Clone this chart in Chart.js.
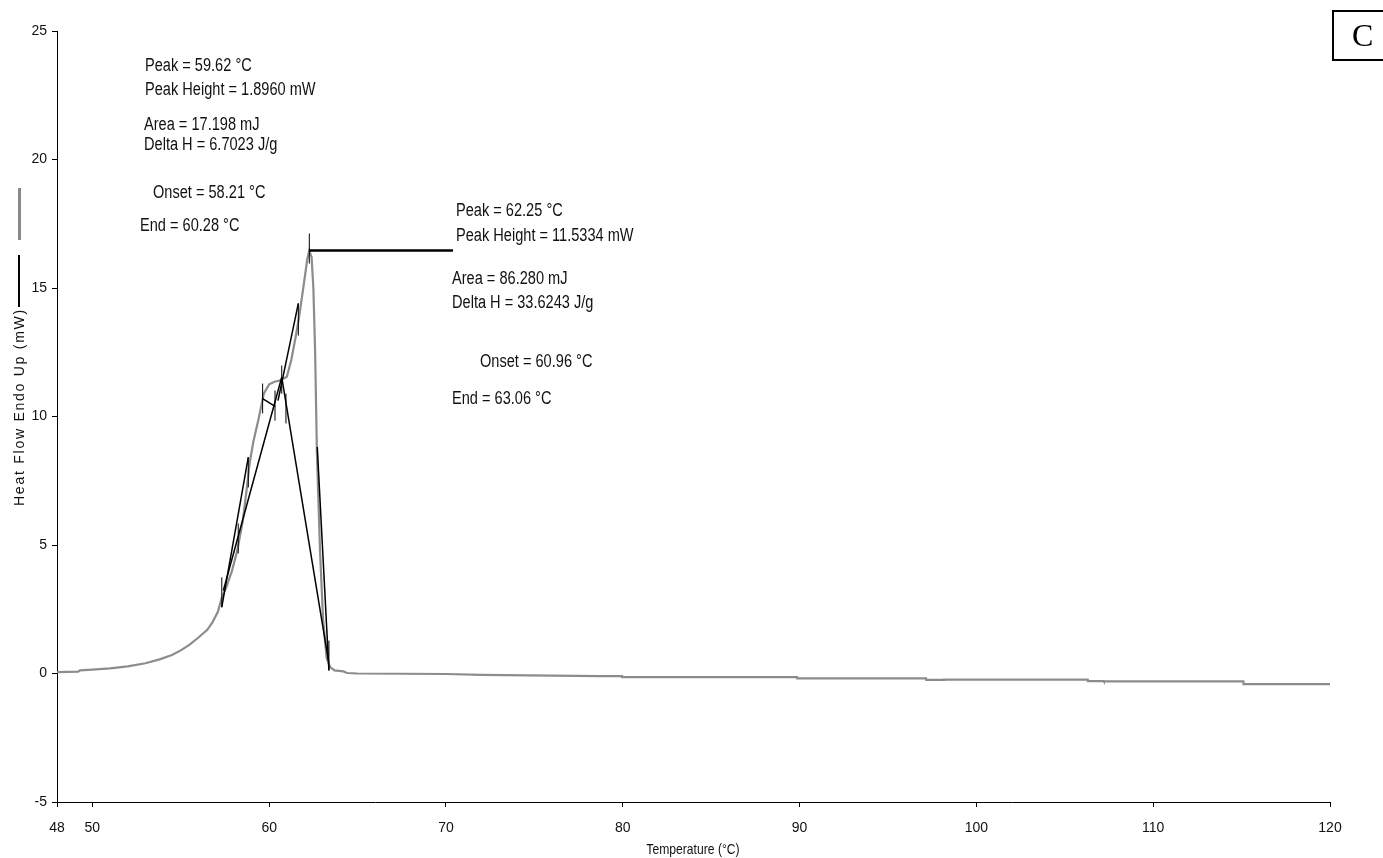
<!DOCTYPE html>
<html><head><meta charset="utf-8"><title>DSC C</title>
<script src="https://cdn.jsdelivr.net/npm/chart.js"></script>
<style>
body{margin:0;background:#fff;}
#wrap{position:relative;width:1383px;height:858px;}
.note{position:absolute;font-family:'Liberation Sans',Arial,sans-serif;font-size:18px;line-height:20px;color:#111;white-space:nowrap;transform:scaleX(0.81);transform-origin:0 0;}
#ytitle{position:absolute;left:19px;top:407px;transform:translate(-50%,-50%) rotate(-90deg);font:14px 'Liberation Sans',Arial,sans-serif;letter-spacing:1.75px;white-space:nowrap;color:#111;}
#xtitle{position:absolute;left:693px;top:840px;transform:translateX(-50%) scaleX(0.81);font:15px 'Liberation Sans',Arial,sans-serif;line-height:18px;white-space:nowrap;color:#111;}
.mark{position:absolute;left:18px;}
#boxC{position:absolute;left:1332px;top:10px;width:60px;height:47px;border:2px solid #000;font:32px 'Liberation Serif','Times New Roman',serif;line-height:47px;padding-left:18px;box-sizing:content-box;}
</style></head>
<body>
<div id="wrap">
  <canvas id="dsc"></canvas>
  <div class="mark" style="top:188px;height:52px;width:3px;background:#8a8a8a;"></div>
  <div class="mark" style="top:255px;height:52px;width:1.5px;background:#000;"></div>
  <div id="ytitle">Heat Flow Endo Up (mW)</div>
  <div id="xtitle">Temperature (°C)</div>
  <div id="boxC">C</div>

  <div class="note" style="left:145px;top:55px">Peak = 59.62 °C</div>
  <div class="note" style="left:145px;top:79px">Peak Height = 1.8960 mW</div>
  <div class="note" style="left:144px;top:114px">Area = 17.198 mJ</div>
  <div class="note" style="left:144px;top:134px">Delta H = 6.7023 J/g</div>
  <div class="note" style="left:153px;top:182px">Onset = 58.21 °C</div>
  <div class="note" style="left:140px;top:215px">End = 60.28 °C</div>

  <div class="note" style="left:456px;top:200px">Peak = 62.25 °C</div>
  <div class="note" style="left:456px;top:225px">Peak Height = 11.5334 mW</div>
  <div class="note" style="left:452px;top:268px">Area = 86.280 mJ</div>
  <div class="note" style="left:452px;top:292px">Delta H = 33.6243 J/g</div>
  <div class="note" style="left:480px;top:351px">Onset = 60.96 °C</div>
  <div class="note" style="left:452px;top:388px">End = 63.06 °C</div>
</div>
<script>
// ---- data ----
const temperatureC = [48.0, 49.2, 49.3, 50.0, 51.0, 52.0, 53.0, 53.8, 54.5, 55.0, 55.5, 56.0, 56.5, 56.8,
  57.1, 57.3, 57.6, 57.9, 58.2, 58.5, 58.7, 58.9, 59.1, 59.4, 59.7, 60.0, 60.3, 60.6, 61.0, 61.25,
  61.5, 61.7, 61.95, 62.15, 62.27, 62.4, 62.5, 62.6, 62.7, 62.88, 63.05, 63.25, 63.45, 63.7, 64.2,
  64.4, 65.0, 70.0, 72.0, 78.7, 79.96, 79.97, 89.86, 89.87, 97.15, 97.16, 98.17, 98.18, 106.3,
  106.31, 107.2, 107.21, 115.1, 115.11, 120.0];
const heatFlowMW = [0.05, 0.07, 0.12, 0.15, 0.2, 0.28, 0.4, 0.55, 0.72, 0.9, 1.12, 1.4, 1.7, 2.0,
  2.4, 2.9, 3.4, 4.0, 4.8, 5.9, 7.0, 8.2, 9.0, 9.9, 10.9, 11.25, 11.35, 11.4, 11.55, 12.2,
  13.1, 13.9, 15.1, 16.1, 16.46, 16.2, 15.0, 12.5, 8.6, 4.7, 2.1, 0.6, 0.25, 0.12, 0.08,
  0.02, 0.0, -0.02, -0.05, -0.1, -0.1, -0.14, -0.14, -0.19, -0.19, -0.25, -0.25, -0.24, -0.24,
  -0.3, -0.3, -0.31, -0.31, -0.41, -0.41];

const xTickValues = [48, 50, 60, 70, 80, 90, 100, 110, 120];
const yTickValues = [-5, 0, 5, 10, 15, 20, 25];

// short vertical markers: [temperature, yFrom, yTo]
const markerTicks = [
  [57.32, 2.57, 3.74], [58.25, 4.67, 5.84], [58.82, 7.24, 8.40], [59.63, 10.12, 11.28],
  [60.33, 9.84, 11.01], [60.71, 10.89, 11.98], [60.95, 9.73, 10.89], [61.65, 13.15, 14.40],
  [62.27, 15.95, 17.12], [63.38, 0.12, 1.28]
];
// tangent / baseline construction lines: [x1, y1, x2, y2]
const tangentLines = [
  [57.32, 2.58, 58.82, 8.42], [57.41, 3.23, 60.71, 11.53], [60.71, 11.53, 63.35, 0.51],
  [60.50, 10.62, 61.65, 14.40], [62.72, 8.81, 63.38, 0.12], [59.63, 10.70, 60.33, 10.39]
];
const peakHeightLine = [62.27, 16.46, 70.40, 16.46];

const canvas = document.getElementById('dsc');
canvas.width = 1383; canvas.height = 858;

const seg = (pts, w) => ({ data: pts, borderColor: '#000', borderWidth: w, pointRadius: 0, fill: false, tension: 0 });
const datasets = [];
datasets.push(seg([{x: peakHeightLine[0], y: peakHeightLine[1]}, {x: peakHeightLine[2], y: peakHeightLine[3]}], 2.5));
tangentLines.forEach(l => datasets.push(seg([{x: l[0], y: l[1]}, {x: l[2], y: l[3]}], 1.5)));
markerTicks.forEach(t => datasets.push(seg([{x: t[0], y: t[1]}, {x: t[0], y: t[2]}], 1)));
datasets.push({
  data: temperatureC.map((t, i) => ({x: t, y: heatFlowMW[i]})),
  borderColor: '#8c8c8c', borderWidth: 2.2, pointRadius: 0, fill: false, tension: 0
});

const tickFont = { family: "'Liberation Sans',Arial,sans-serif", size: 14 };

new Chart(canvas, {
  type: 'line',
  data: { datasets },
  options: {
    responsive: false,
    animation: false,
    layout: { padding: { top: 31, right: 53, left: 0, bottom: 0 } },
    plugins: { legend: { display: false }, tooltip: { enabled: false } },
    scales: {
      x: {
        type: 'linear', min: 48, max: 120,
        afterBuildTicks: s => { s.ticks = xTickValues.map(v => ({ value: v })); },
        afterFit: s => { s.height = 56; },
        grid: { drawOnChartArea: false, drawTicks: true, tickLength: 5, color: '#000' },
        border: { color: '#000', width: 1 },
        ticks: { color: '#111', font: tickFont, padding: 13, maxRotation: 0, autoSkip: false }
      },
      y: {
        min: -5, max: 25,
        afterBuildTicks: s => { s.ticks = yTickValues.map(v => ({ value: v })); },
        afterFit: s => { s.width = 57; },
        grid: { drawOnChartArea: false, drawTicks: true, tickLength: 5, color: '#000' },
        border: { color: '#000', width: 1 },
        ticks: { color: '#111', font: tickFont, padding: 5 }
      }
    }
  }
});
</script>
</body></html>
